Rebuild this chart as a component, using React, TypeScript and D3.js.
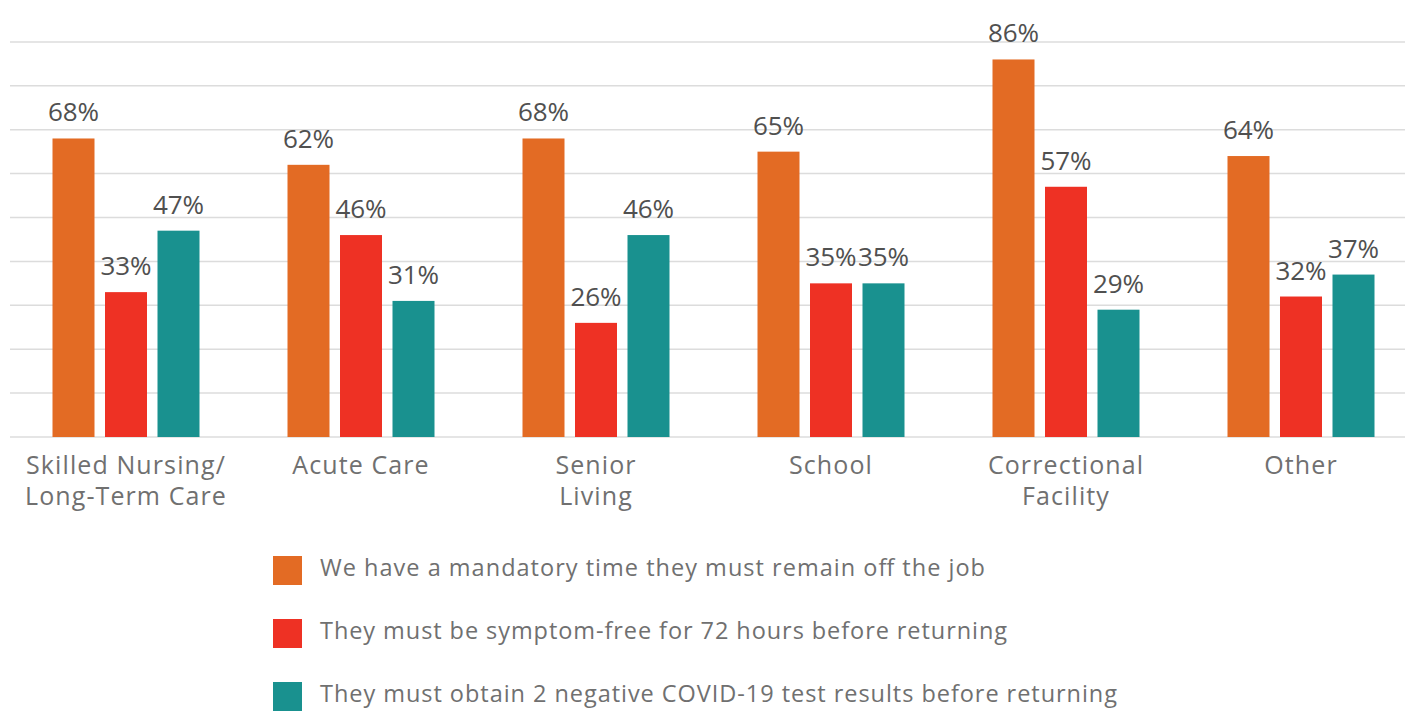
import { useEffect, useRef } from 'react';
import * as d3 from 'd3';

const categories = [
  ['Skilled Nursing/', 'Long-Term Care'],
  ['Acute Care'],
  ['Senior', 'Living'],
  ['School'],
  ['Correctional', 'Facility'],
  ['Other'],
];
const mandatoryTime = [68, 62, 68, 65, 86, 64];
const symptomFree = [33, 46, 26, 35, 57, 32];
const negativeTests = [47, 31, 46, 35, 29, 37];
const seriesNames = [
  'We have a mandatory time they must remain off the job',
  'They must be symptom-free for 72 hours before returning',
  'They must obtain 2 negative COVID-19 test results before returning',
];
const legendWidths = [665, 687, 797];
const colors = ['#e36b24', '#ee3124', '#19918f'];
const gridTicks = [0, 10, 20, 30, 40, 50, 60, 70, 80, 90];

export default function App() {
  const svgRef = useRef<SVGSVGElement>(null);

  useEffect(() => {
    if (!svgRef.current) return;
    const width = 1417;
    const height = 711;
    const svg = d3.select(svgRef.current);
    svg.selectAll('*').remove();

    const series = [mandatoryTime, symptomFree, negativeTests];
    const x0 = d3.scaleBand<number>().domain(d3.range(categories.length)).range([8.5, 1418.5]);
    const x1 = d3.scaleBand<number>().domain([0, 1, 2]).range([0, 147]).paddingInner(0.2);
    const y = d3.scaleLinear().domain([0, 100]).range([437, -2]);

    // grid
    svg.append('g')
      .selectAll('line')
      .data(gridTicks)
      .enter()
      .append('line')
      .attr('x1', 10)
      .attr('x2', 1405)
      .attr('y1', (d) => y(d))
      .attr('y2', (d) => y(d))
      .attr('stroke', '#dcdcdc')
      .attr('stroke-width', 1.5);

    const groups = svg.append('g')
      .selectAll('g')
      .data(categories.map((_, i) => i))
      .enter()
      .append('g')
      .attr('transform', (i) => `translate(${x0(i)! + x0.bandwidth() / 2 - 73.5},0)`);

    groups.each(function (i) {
      const g = d3.select(this);
      series.forEach((s, k) => {
        g.append('rect')
          .attr('x', x1(k)!)
          .attr('width', x1.bandwidth())
          .attr('y', y(s[i]))
          .attr('height', y(0) - y(s[i]))
          .attr('fill', colors[k]);
        g.append('text')
          .attr('x', x1(k)! + x1.bandwidth() / 2)
          .attr('y', y(s[i]) - 17)
          .attr('text-anchor', 'middle')
          .attr('font-family', 'Open Sans, sans-serif')
          .attr('font-size', 26)
          .attr('fill', '#505050')
          .text(`${s[i]}%`);
      });
    });

    // category labels
    const cat = svg.append('g')
      .selectAll('text')
      .data(categories)
      .enter()
      .append('text')
      .attr('x', (_, i) => x0(i)! + x0.bandwidth() / 2)
      .attr('y', 474)
      .attr('text-anchor', 'middle')
      .attr('font-family', 'Open Sans, sans-serif')
      .attr('font-size', 25)
      .attr('letter-spacing', 1.1)
      .attr('fill', '#707070');
    cat.each(function (lines) {
      d3.select(this)
        .selectAll('tspan')
        .data(lines)
        .enter()
        .append('tspan')
        .attr('x', d3.select(this).attr('x'))
        .attr('dy', (_, j) => (j === 0 ? 0 : 31))
        .text((d) => d);
    });

    // legend
    const legend = svg.append('g')
      .selectAll('g')
      .data(seriesNames)
      .enter()
      .append('g')
      .attr('transform', (_, i) => `translate(273,${556 + i * 63})`);
    legend.append('rect')
      .attr('width', 29)
      .attr('height', 29)
      .attr('fill', (_, i) => colors[i]);
    legend.append('text')
      .attr('x', 47)
      .attr('y', 20)
      .attr('font-family', 'Open Sans, sans-serif')
      .attr('font-size', 23.5)
      .attr('textLength', (_, i) => legendWidths[i])
      .attr('lengthAdjust', 'spacing')
      .attr('fill', '#707070')
      .text((d) => d);

    svg.attr('width', width).attr('height', height);
  }, []);

  return (
    <div style={{ position: 'absolute', left: 0, top: 0, background: '#fff' }}>
      <svg ref={svgRef} style={{ display: 'block' }} />
    </div>
  );
}
